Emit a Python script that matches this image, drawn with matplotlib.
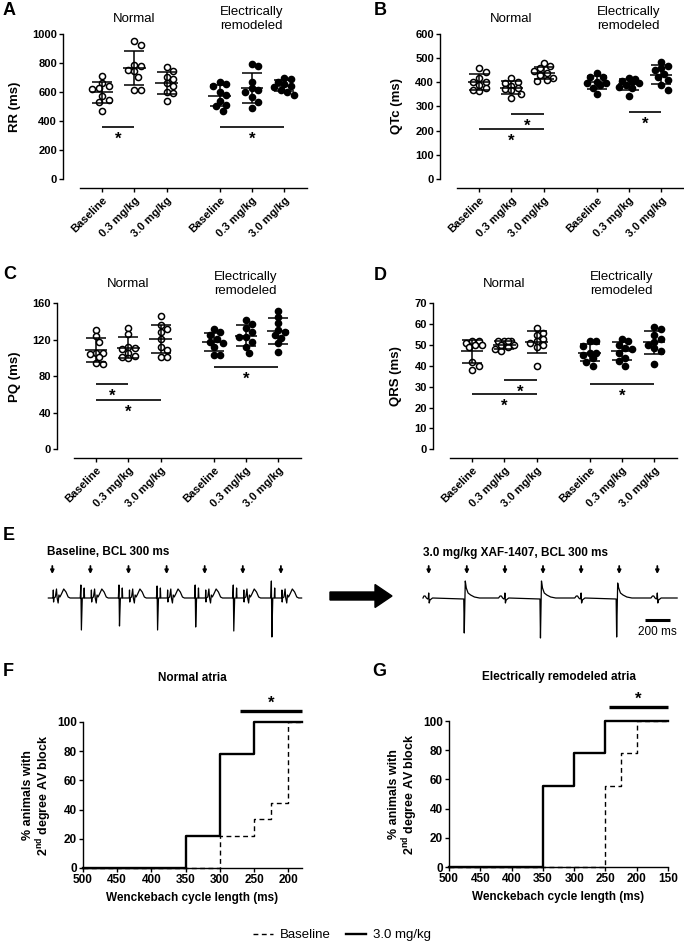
import numpy as np
import matplotlib.pyplot as plt
import matplotlib.transforms as mtransforms
from matplotlib.patches import FancyArrow

plt.rcParams['font.family'] = ['Liberation Sans', 'DejaVu Sans']
plt.rcParams['font.weight'] = 'bold'
plt.rcParams['mathtext.fontset'] = 'custom'
plt.rcParams['mathtext.rm'] = 'Liberation Sans'
plt.rcParams['mathtext.bf'] = 'Liberation Sans:bold'
plt.rcParams['axes.linewidth'] = 1.0

# ---------------- data ----------------
dose_labels = ['Baseline', '0.3 mg/kg', '3.0 mg/kg']

# columns: normal baseline, 0.3, 3.0, remodeled baseline, 0.3, 3.0
rr = [
    [709, 663, 640, 624, 617, 571, 544, 532, 470],
    [950, 925, 785, 775, 750, 740, 700, 615, 615],
    [768, 745, 705, 686, 660, 640, 600, 590, 540],
    [670, 652, 640, 600, 580, 540, 510, 500, 465],
    [791, 777, 670, 624, 612, 600, 567, 532, 486],
    [695, 685, 670, 655, 640, 630, 615, 600, 580],
]
qtc = [
    [460, 440, 416, 402, 399, 388, 374, 365, 367],
    [418, 400, 398, 384, 374, 370, 367, 351, 333],
    [480, 466, 457, 445, 436, 429, 416, 409, 406],
    [439, 420, 420, 402, 398, 398, 388, 374, 351],
    [416, 411, 406, 402, 395, 388, 378, 374, 343],
    [484, 466, 457, 450, 433, 422, 409, 388, 367],
]
pq = [
    [131, 124, 118, 106, 105, 104, 101, 95, 94],
    [133, 126, 112, 111, 110, 105, 102, 100, 101],
    [146, 136, 131.5, 129, 120.5, 112.5, 109, 101.5, 101.5],
    [131.5, 129, 125, 120.5, 118, 116, 112, 103, 103],
    [141.7, 137, 132.6, 129, 123.5, 122.7, 118, 106, 111.8],
    [152, 145, 138, 131, 129, 125, 116, 122, 107],
]
qrs = [
    [52, 52, 51, 50, 50, 49, 42, 40, 38],
    [52, 52, 52, 52, 50, 50, 49, 48, 47],
    [58, 56, 55, 53, 52, 51, 50, 49, 40],
    [52, 52, 49.5, 46.3, 46, 44, 45, 42, 40],
    [52.7, 52, 50, 48.4, 48, 46, 44, 42.5, 40],
    [58.8, 57.5, 54.8, 52.7, 51.6, 50, 48.4, 47.3, 41],
]

# significance bars: (from group, to group, height)
rr_sig = [(0, 1, 358), (3, 5, 358)]
qtc_sig = [(1, 2, 267), (0, 2, 205), (4, 5, 275)]
pq_sig = [(0, 1, 71.6), (0, 2, 54), (3, 5, 90)]
qrs_sig = [(1, 2, 33.1), (0, 2, 26.4), (3, 5, 31.3)]

# F / G: % animals with 2nd degree AV block vs Wenckebach cycle length
f_base_cl = [500, 300, 250, 225, 200, 180]
f_base_pct = [0, 22.2, 33.3, 44.4, 100, 100]
f_dose_cl = [500, 350, 300, 250, 180]
f_dose_pct = [0, 22.2, 77.8, 100, 100]
g_base_cl = [500, 250, 225, 200, 150]
g_base_pct = [0, 55.6, 77.8, 100, 100]
g_dose_cl = [500, 350, 300, 250, 150]
g_dose_pct = [0, 55.6, 77.8, 100, 100]
f_sig = (270, 180, 107.5)
g_sig = (245, 150, 109.6)

# E: ECG shapes (ms after stimulus, deflection)
stim_times = [0, 300, 600, 900, 1200, 1500, 1800]
base_p_t = [0, 6, 8, 10, 13, 24, 33, 38, 46, 52, 60, 72, 90, 108, 125, 140]
base_p_v = [0, 0, 8, -4, 0, 1, 9, 0, -5, 3, 1, 4, 9, 6, 1, 0]
base_qrs_t = [220, 225, 229, 236, 248, 251, 254]
base_qrs_up = [13, 13, 12, 13, 13, 17]
base_qrs_down = [-32, -28, -32, -29, -33, -39]
drug_blk_t = [-50, -38, -28, -18, -8, -3, 0, 4, 10, 30]
drug_blk_v = [0, 2, 2, 0, -1, 0, 5, -5, -2, 0]
drug_qrs_t = [-24, -20, -12, -4, 10, 30, 60, 100]
drug_qrs_up = [17, 17, 15]
drug_qrs_down = [-35, -40, -39]

# ---------------- figure ----------------
W, H = 684, 944
fig = plt.figure(figsize=(W / 100, H / 100), dpi=100)


def px_axes(left, top, right, bottom):
    return fig.add_axes([left / W, 1 - bottom / H, (right - left) / W, (bottom - top) / H])


def ftext(x, y, s, **kw):
    return fig.text(x / W, 1 - y / H, s, **kw)


def swarm_offsets(vals, px_y, px_x, diam=6.5, max_steps=3):
    # small beeswarm in pixel space, limited width like a Prism scatter column
    vals = np.asarray(vals, float)
    cands = [0.0]
    for k in range(1, max_steps + 1):
        cands += [k * diam / 2, -k * diam / 2]
    placed = []
    offs = np.zeros(len(vals))
    for i in np.argsort(-vals):
        yp = vals[i] * px_y
        best, best_d = 0.0, -1
        for c in cands:
            d = min([np.hypot(c - xo, yp - yo) for xo, yo in placed] + [99])
            if d >= 0.95 * diam:
                best = c
                break
            if d > best_d:
                best, best_d = c, d
        placed.append((best, yp))
        offs[i] = best / px_x
    return offs


overlay = fig.add_axes([0, 0, 1, 1])
overlay.set_xlim(0, W)
overlay.set_ylim(H, 0)
overlay.axis('off')

x_pos = np.r_[np.arange(3), np.arange(3) + 3.64]
px_per_x = 32.3

panels = [
    dict(vals=rr, ymax=1000, ystep=200, ylabel='RR (ms)', sig=rr_sig,
         box=(80, 33.7, 307, 179), ylab_x=15, letter=('A', 3, 2), head_y=19),
    dict(vals=qtc, ymax=600, ystep=100, ylabel='QTc (ms)', sig=qtc_sig,
         box=(457, 33.7, 684, 179), ylab_x=397, letter=('B', 374, 2), head_y=19),
    dict(vals=pq, ymax=160, ystep=40, ylabel='PQ (ms)', sig=pq_sig,
         box=(74, 303.3, 301, 449.3), ylab_x=15, letter=('C', 3, 266), head_y=284),
    dict(vals=qrs, ymax=70, ystep=10, ylabel='QRS (ms)', sig=qrs_sig,
         box=(450, 303.3, 677, 449.3), ylab_x=396, letter=('D', 374, 267), head_y=284),
]

for p in panels:
    l, t, r, b = p['box']
    ax = px_axes(l, t, r, b)
    x0 = -22 / px_per_x
    ax.set_xlim(x0, x0 + (r - l) / px_per_x)
    ax.set_ylim(0, p['ymax'])
    px_y = (b - t) / p['ymax']
    for i, vals in enumerate(p['vals']):
        offs = swarm_offsets(vals, px_y, px_per_x)
        face = 'white' if i < 3 else 'black'
        ax.plot(x_pos[i] + offs, vals, 'o', ms=4.4, mfc=face, mec='black', mew=1.1,
                zorder=3, clip_on=False)
        m = np.mean(vals)
        sd = np.std(vals, ddof=1)
        ax.hlines(m, x_pos[i] - 0.35, x_pos[i] + 0.35, color='black', lw=1.1, zorder=4)
        ax.errorbar(x_pos[i], m, yerr=sd, fmt='none', ecolor='black', elinewidth=1.1,
                    capsize=7, capthick=1.1, zorder=4)
    for g0, g1, h in p['sig']:
        ax.hlines(h, x_pos[g0], x_pos[g1], color='black', lw=1.2)
        ax.annotate('*', xy=((x_pos[g0] + x_pos[g1]) / 2, h), xytext=(0, -12),
                    textcoords='offset pixels', ha='center', va='center', fontsize=12)
    for s in ['top', 'right']:
        ax.spines[s].set_visible(False)
    ax.spines['left'].set_position(('outward', 12))
    ax.spines['bottom'].set_position(('outward', 6.5))
    ax.spines['left'].set_bounds(0, p['ymax'])
    ax.set_yticks(np.arange(0, p['ymax'] + 1, p['ystep']))
    ax.set_xticks(x_pos)
    ax.set_xticklabels(dose_labels * 2, rotation=45, ha='right', rotation_mode='anchor')
    ax.tick_params(axis='x', length=3, width=1, pad=2, labelsize=8)
    ax.tick_params(axis='y', length=3, width=1, pad=1.5, labelsize=8)
    ax.patch.set_visible(False)
    ftext(p['ylab_x'], (t + b) / 2, p['ylabel'], rotation=90, ha='center', va='center',
          fontsize=9.5)
    lt, lx, ly = p['letter']
    ftext(lx, ly, lt, ha='left', va='top', fontsize=13)
    tr = mtransforms.blended_transform_factory(ax.transData, fig.transFigure)
    ax.text(x_pos[1], 1 - p['head_y'] / H, 'Normal', transform=tr, ha='center',
            va='center', fontsize=9.5, fontweight='normal')
    ax.text(x_pos[4], 1 - p['head_y'] / H, 'Electrically\nremodeled', transform=tr,
            ha='center', va='center', fontsize=9.5, fontweight='normal', linespacing=1.2)

# ---------------- E: ECG traces ----------------
ftext(3, 527, 'E', ha='left', va='top', fontsize=13)
ms_per_px = 300 / 38.1


def trace_axes(left, right, stim_px):
    ax = px_axes(left, 540, right, 650)
    ax.set_xlim((left - stim_px) * ms_per_px, (right - stim_px) * ms_per_px)
    ax.set_ylim(-52, 58)
    ax.axis('off')
    for s in stim_times:
        ax.annotate('', xy=(s, 24), xytext=(s, 32),
                    arrowprops=dict(arrowstyle='-|>', color='black', lw=1.3,
                                    mutation_scale=5, shrinkA=0, shrinkB=0))
    return ax


def assemble(t0, t1, pieces):
    tt, vv = [t0], [0]
    for ts, vs in pieces:
        tt += list(ts)
        vv += list(vs)
    tt.append(t1)
    vv.append(0)
    tt, vv = np.array(tt, float), np.array(vv, float)
    keep = (tt >= t0) & (tt <= t1)
    return tt[keep], vv[keep]


pieces = []
for k, s in enumerate(stim_times):
    pieces.append((np.array(base_p_t) + s, base_p_v))
    if k < len(base_qrs_up):
        shape = [0, base_qrs_up[k], base_qrs_down[k], 0, 0, 10, 0]
        pieces.append((np.array(base_qrs_t) + s, shape))
ax_e1 = trace_axes(45, 305, 52.3)
t, v = assemble(-31, 1963, pieces)
ax_e1.plot(t, v, color='black', lw=0.9)
ftext(47, 552, 'Baseline, BCL 300 ms', ha='left', va='center', fontsize=8.5)

pieces = []
j = 0
for k, s in enumerate(stim_times):
    if k % 2 == 1:
        shape = [-1, drug_qrs_down[j], drug_qrs_up[j], 10, 5, 3, 1, 0]
        pieces.append((np.array(drug_qrs_t) + s, shape))
        j += 1
    else:
        pieces.append((np.array(drug_blk_t) + s, drug_blk_v))
ax_e2 = trace_axes(415, 684, 428.7)
t, v = assemble(-45, 1956, pieces)
ax_e2.plot(t, v, color='black', lw=0.9)
ax_e2.plot([1700, 1900], [-22, -22], color='black', lw=2.2, solid_capstyle='butt')
ax_e2.text(1800, -34, '200 ms', ha='center', va='center', fontsize=8.5, fontweight='normal')
ftext(423, 553, '3.0 mg/kg XAF-1407, BCL 300 ms', ha='left', va='center', fontsize=8.5)

overlay.add_patch(FancyArrow(330, 596, 62, 0, width=8, head_width=23, head_length=17,
                             length_includes_head=True, color='black'))

# ---------------- F / G ----------------
ylab_fg = '% animals with\n2$^{\\mathbf{nd}}$ degree AV block'
fg = [
    dict(box=(83, 722, 302, 868), xmin=180, base=(f_base_cl, f_base_pct),
         dose=(f_dose_cl, f_dose_pct), sig=f_sig, title='Normal atria',
         ylab_x=38, letter=('F', 3, 663)),
    dict(box=(449, 721, 668, 867), xmin=150, base=(g_base_cl, g_base_pct),
         dose=(g_dose_cl, g_dose_pct), sig=g_sig, title='Electrically remodeled atria',
         ylab_x=404, letter=('G', 372, 663)),
]
handles = None
for p in fg:
    l, t, r, b = p['box']
    ax = px_axes(l, t, r, b)
    ax.set_xlim(500, p['xmin'])
    ax.set_ylim(0, 100)
    hb, = ax.plot(*p['base'], drawstyle='steps-post', color='black', lw=1.0,
                  ls=(0, (3.5, 2.5)), clip_on=False, zorder=2)
    hd, = ax.plot(*p['dose'], drawstyle='steps-post', color='black', lw=1.7,
                  clip_on=False, zorder=3)
    handles = [hb, hd]
    s0, s1, h = p['sig']
    ax.plot([s0, s1], [h, h], color='black', lw=2.4, clip_on=False, solid_capstyle='butt')
    ax.annotate('*', xy=((s0 + s1) / 2, h), xytext=(0, 8), textcoords='offset pixels',
                ha='center', va='center', fontsize=12, annotation_clip=False)
    for s in ['top', 'right']:
        ax.spines[s].set_visible(False)
    ax.set_xticks(np.arange(500, p['xmin'] - 1, -50))
    ax.set_yticks(np.arange(0, 101, 20))
    ax.tick_params(length=3, width=1, pad=1.5, labelsize=8.5)
    ax.patch.set_visible(False)
    ftext((l + r) / 2, b + 30, 'Wenckebach cycle length (ms)', ha='center', va='center',
          fontsize=8.5)
    ftext((l + r) / 2, t - 44, p['title'], ha='center', va='center', fontsize=8.5)
    ftext(p['ylab_x'], (t + b) / 2, ylab_fg, rotation=90, ha='center', va='center',
          fontsize=9, linespacing=1.1)
    lt, lx, ly = p['letter']
    ftext(lx, ly, lt, ha='left', va='top', fontsize=13)

fig.legend(handles, ['Baseline', '3.0 mg/kg'], loc='center', bbox_to_anchor=(0.5, 1 - 935 / H),
           ncol=2, frameon=False, handlelength=1.5, columnspacing=1.2, handletextpad=0.5,
           prop=dict(size=9.5, weight='normal'))

fig.savefig('out.png', dpi=100)
